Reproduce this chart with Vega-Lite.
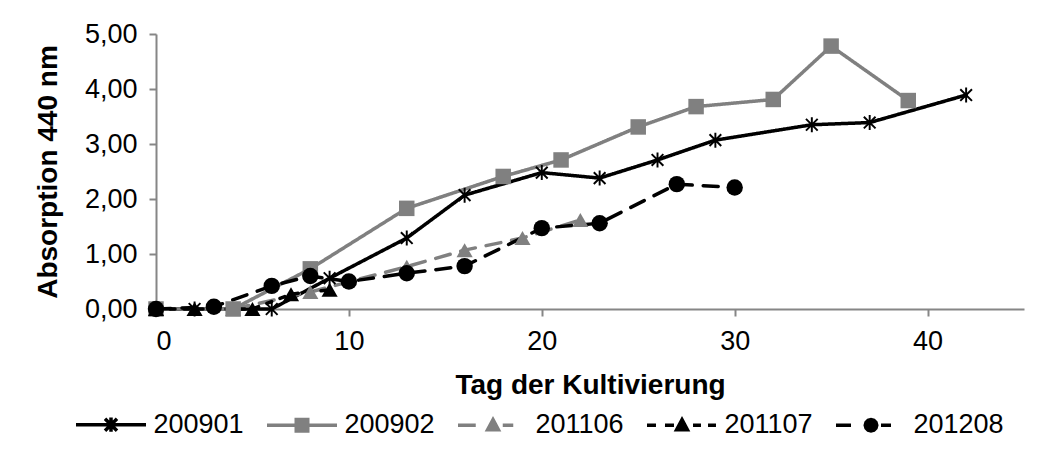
{
  "$schema": "https://vega.github.io/schema/vega-lite/v6.json",
  "width": 868,
  "height": 275,
  "autosize": "none",
  "padding": {"left": 156, "top": 34, "right": 31, "bottom": 150},
  "background": "white",
  "data": {
    "values": [
      {"series": "200901", "day": 0, "abs": 0},
      {"series": "200901", "day": 2, "abs": 0},
      {"series": "200901", "day": 6, "abs": 0},
      {"series": "200901", "day": 9, "abs": 0.56},
      {"series": "200901", "day": 13, "abs": 1.29},
      {"series": "200901", "day": 16, "abs": 2.07},
      {"series": "200901", "day": 20, "abs": 2.48},
      {"series": "200901", "day": 23, "abs": 2.38},
      {"series": "200901", "day": 26, "abs": 2.71},
      {"series": "200901", "day": 29, "abs": 3.07},
      {"series": "200901", "day": 34, "abs": 3.35},
      {"series": "200901", "day": 37, "abs": 3.39},
      {"series": "200901", "day": 42, "abs": 3.89},
      {"series": "200902", "day": 0, "abs": 0},
      {"series": "200902", "day": 4, "abs": 0},
      {"series": "200902", "day": 8, "abs": 0.73},
      {"series": "200902", "day": 13, "abs": 1.83},
      {"series": "200902", "day": 18, "abs": 2.41},
      {"series": "200902", "day": 21, "abs": 2.71},
      {"series": "200902", "day": 25, "abs": 3.31},
      {"series": "200902", "day": 28, "abs": 3.68},
      {"series": "200902", "day": 32, "abs": 3.81},
      {"series": "200902", "day": 35, "abs": 4.78},
      {"series": "200902", "day": 39, "abs": 3.79},
      {"series": "201106", "day": 0, "abs": 0},
      {"series": "201106", "day": 4, "abs": 0},
      {"series": "201106", "day": 8, "abs": 0.31},
      {"series": "201106", "day": 13, "abs": 0.77},
      {"series": "201106", "day": 16, "abs": 1.07},
      {"series": "201106", "day": 19, "abs": 1.29},
      {"series": "201106", "day": 22, "abs": 1.62},
      {"series": "201107", "day": 0, "abs": 0},
      {"series": "201107", "day": 2, "abs": 0},
      {"series": "201107", "day": 5, "abs": 0},
      {"series": "201107", "day": 7, "abs": 0.27},
      {"series": "201107", "day": 9, "abs": 0.35},
      {"series": "201208", "day": 0, "abs": 0},
      {"series": "201208", "day": 3, "abs": 0.04},
      {"series": "201208", "day": 6, "abs": 0.42},
      {"series": "201208", "day": 8, "abs": 0.6},
      {"series": "201208", "day": 10, "abs": 0.5},
      {"series": "201208", "day": 13, "abs": 0.65},
      {"series": "201208", "day": 16, "abs": 0.78},
      {"series": "201208", "day": 20, "abs": 1.47},
      {"series": "201208", "day": 23, "abs": 1.56},
      {"series": "201208", "day": 27, "abs": 2.27},
      {"series": "201208", "day": 30, "abs": 2.21}
    ]
  },
  "encoding": {
    "x": {
      "field": "day", "type": "quantitative",
      "scale": {"domain": [0, 45], "nice": false, "zero": false},
      "axis": {
        "title": "Tag der Kultivierung",
        "values": [0, 10, 20, 30, 40],
        "labelPadding": 12,
        "titlePadding": 17,
        "titleX": 434
      }
    },
    "y": {
      "field": "abs", "type": "quantitative",
      "scale": {"domain": [0, 5], "nice": false},
      "axis": {
        "title": "Absorption 440 nm",
        "values": [0, 1, 2, 3, 4, 5],
        "labelExpr": "replace(format(datum.value, '.2f'), '.', ',')",
        "labelPadding": 12,
        "titlePadding": 22
      }
    }
  },
  "layer": [
    {
      "mark": {"type": "line", "strokeWidth": 3.5, "strokeCap": "round", "strokeJoin": "round"},
      "encoding": {
        "color": {
          "field": "series", "type": "nominal",
          "scale": {
            "domain": ["201208", "201107", "201106", "200902", "200901"],
            "range": ["#000000", "#000000", "#808080", "#808080", "#000000"]
          },
          "legend": null
        },
        "strokeDash": {
          "field": "series", "type": "nominal",
          "scale": {
            "domain": ["201208", "201107", "201106", "200902", "200901"],
            "range": [[15, 11], [5, 9], [15, 11], [1, 0], [1, 0]]
          },
          "legend": null
        }
      }
    },
    {
      "transform": [{"filter": "datum.series === '200901'"}],
      "mark": {
        "type": "point", "filled": true, "opacity": 1, "size": 225, "color": "#000000",
        "shape": "M-0.13,-1L0.13,-1L0.13,1L-0.13,1ZM0.688,0.872L-0.872,-0.688L-0.688,-0.872L0.872,0.688ZM0.872,-0.688L-0.688,0.872L-0.872,0.688L0.688,-0.872Z"
      }
    },
    {
      "transform": [{"filter": "datum.series === '200902'"}],
      "mark": {"type": "point", "filled": true, "opacity": 1, "size": 240, "shape": "square", "color": "#808080"}
    },
    {
      "transform": [{"filter": "datum.series === '201106'"}],
      "mark": {"type": "point", "filled": true, "opacity": 1, "size": 260, "shape": "triangle-up", "color": "#808080"}
    },
    {
      "transform": [{"filter": "datum.series === '201107'"}],
      "mark": {"type": "point", "filled": true, "opacity": 1, "size": 260, "shape": "triangle-up", "color": "#000000"}
    },
    {
      "transform": [{"filter": "datum.series === '201208'"}],
      "mark": {"type": "point", "filled": true, "opacity": 1, "size": 270, "shape": "circle", "color": "#000000"}
    },
    {
      "mark": {"type": "point", "filled": false, "clip": true},
      "encoding": {
        "x": {"datum": -1000},
        "stroke": {
          "field": "series", "type": "nominal",
          "scale": {
            "domain": ["200901", "200902", "201106", "201107", "201208"],
            "range": ["#000000", "#808080", "#808080", "#000000", "#000000"]
          },
          "legend": {
            "orient": "none",
            "direction": "horizontal",
            "columns": 5,
            "title": null,
            "legendX": -80,
            "legendY": 377
          }
        },
        "shape": {
          "field": "series", "type": "nominal",
          "scale": {
            "domain": ["200901", "200902", "201106", "201107", "201208"],
            "range": [
              "M-4.667,0H4.667M0,-0.95V0.95M-0.8,-0.8L0.8,0.8M-0.8,0.8L0.8,-0.8",
              "M-4.667,0H4.667M-0.767,-0.767H0.767V0.767H-0.767ZM-0.4,-0.4H0.4V0.4H-0.4ZM-0.08,-0.08H0.08V0.08H-0.08Z",
              "M-4.667,0H-2.3M1.3,0H2.7M0,-0.75L0.72,0.6L-0.72,0.6ZM0,-0.2L0.3,0.33L-0.3,0.33Z",
              "M-4.667,0H-3.47M-2.27,0H-1.07M1.47,0H2.53M3.47,0H4.53M0,-0.75L0.72,0.6L-0.72,0.6ZM0,-0.2L0.3,0.33L-0.3,0.33Z",
              "M-4.667,0H-2.67M1.33,0H2.67M0.767,0L0.664,0.384L0.384,0.664L0,0.767L-0.384,0.664L-0.664,0.384L-0.767,0L-0.664,-0.384L-0.384,-0.664L0,-0.767L0.384,-0.664L0.664,-0.384ZM0.45,0L0.39,0.225L0.225,0.39L0,0.45L-0.225,0.39L-0.39,0.225L-0.45,0L-0.39,-0.225L-0.225,-0.39L0,-0.45L0.225,-0.39L0.39,-0.225ZM-0.1,-0.1H0.1V0.1H-0.1Z"
            ]
          },
          "legend": {
            "orient": "none",
            "direction": "horizontal",
            "columns": 5,
            "title": null,
            "legendX": -80,
            "legendY": 377
          }
        }
      }
    }
  ],
  "config": {
    "font": "Liberation Sans",
    "view": {"stroke": null},
    "axis": {
      "grid": false,
      "domainColor": "#868686",
      "domainWidth": 2,
      "tickColor": "#868686",
      "tickWidth": 2,
      "tickSize": 7,
      "labelFont": "Liberation Sans",
      "labelFontSize": 27,
      "labelColor": "#000000",
      "titleFont": "Liberation Sans",
      "titleFontSize": 28,
      "titleFontWeight": "bold",
      "titleColor": "#000000"
    },
    "legend": {
      "labelFont": "Liberation Sans",
      "labelFontSize": 27,
      "labelColor": "#000000",
      "symbolSize": 225,
      "symbolStrokeWidth": 3.5,
      "symbolOpacity": 1,
      "symbolOffset": 21.5,
      "labelOffset": 29,
      "columnPadding": 15,
      "padding": 0,
      "offset": 0
    }
  }
}
